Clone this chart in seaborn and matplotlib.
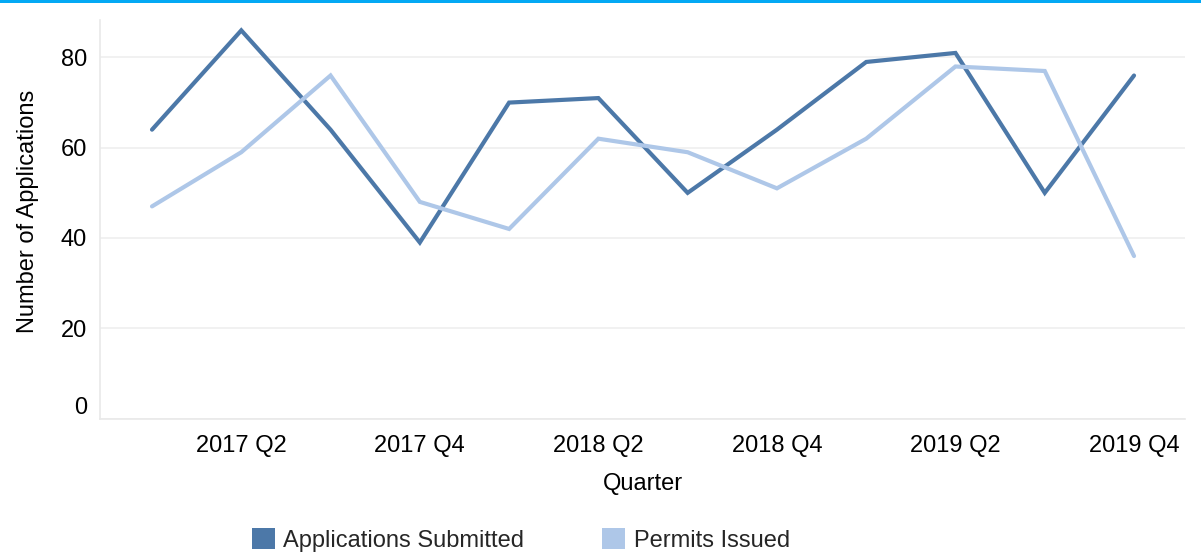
import matplotlib
matplotlib.use('Agg')
import matplotlib.pyplot as plt
import seaborn as sns
import pandas as pd
from matplotlib.patches import Patch, Rectangle

quarters = ['2017 Q1', '2017 Q2', '2017 Q3', '2017 Q4',
            '2018 Q1', '2018 Q2', '2018 Q3', '2018 Q4',
            '2019 Q1', '2019 Q2', '2019 Q3', '2019 Q4']
applications = [64, 86, 64, 39, 70, 71, 50, 64, 79, 81, 50, 76]
permits = [47, 59, 76, 48, 42, 62, 59, 51, 62, 78, 77, 36]
series_names = ['Applications Submitted', 'Permits Issued']
colors = ['#4c78a8', '#aec7e8']
y_ticks = [0, 20, 40, 60, 80]

sns.set_theme(style='white')
plt.rcParams['font.family'] = ['Liberation Sans', 'DejaVu Sans']

W, H = 1201, 556
fig = plt.figure(figsize=(W / 100, H / 100), dpi=100)
ax = fig.add_axes([100 / W, 1 - 418.5 / H, 1085 / W, 398.5 / H])

idx = list(range(len(quarters)))
df = pd.DataFrame({
    'idx': idx * 2,
    'Series': [series_names[0]] * len(quarters) + [series_names[1]] * len(quarters),
    'Value': applications + permits,
})
sns.lineplot(data=df, x='idx', y='Value', hue='Series', hue_order=series_names,
             palette=colors, linewidth=3, ax=ax, legend=False, sort=False)
for ln in ax.lines:
    ln.set_solid_capstyle('round')
    ln.set_solid_joinstyle('miter')

ax.set_xlim(-0.5825, 11.571)
ax.set_ylim(0, 88.3)

grid_c = '#e9e9e9'
ax.set_yticks(y_ticks)
ax.set_yticklabels([str(v) for v in y_ticks])
ax.yaxis.grid(True, color='#efefef', linewidth=1.2)
ax.xaxis.grid(False)
ax.set_axisbelow(True)
ax.set_xticks(idx)
ax.set_xticklabels([q if i % 2 == 1 else '' for i, q in enumerate(quarters)])

for s in ['top', 'right']:
    ax.spines[s].set_visible(False)
for s in ['left', 'bottom']:
    ax.spines[s].set_color(grid_c)
    ax.spines[s].set_linewidth(1.2)

ax.tick_params(axis='y', length=5.8, width=1, color=grid_c, pad=3.6,
               labelsize=17, labelcolor='#000000')
ax.tick_params(axis='x', length=3.6, width=1, color=grid_c, pad=8,
               labelsize=17, labelcolor='#000000')
# flush first y label upward
lbl0 = ax.get_yticklabels()[0]
lbl0.set_va('bottom')

ax.set_xlabel('Quarter', fontsize=17, color='#000000')
ax.set_ylabel('Number of Applications', fontsize=17, color='#000000')
ax.xaxis.label.set_va('center')
ax.xaxis.set_label_coords(0.5, (418.5 - 484) / 398.5)
ax.yaxis.label.set_va('center')
ax.yaxis.set_label_coords((28 - 100) / 1085, (418.5 - 211.5) / 398.5)

handles = [Patch(facecolor=c, edgecolor='none', label=n) for c, n in zip(colors, series_names)]
fig.legend(handles=handles, loc='center left', bbox_to_anchor=(252 / W, 1 - 540 / H),
           ncol=2, frameon=False, fontsize=17, handlelength=0.98, handleheight=0.98,
           handletextpad=0.35, columnspacing=3.3, borderpad=0, borderaxespad=0)

fig.patches.append(Rectangle((0, 1 - 3 / H), 1, 3 / H, transform=fig.transFigure,
                             facecolor='#03a9f4', edgecolor='none'))

fig.savefig('out.png', dpi=100)
